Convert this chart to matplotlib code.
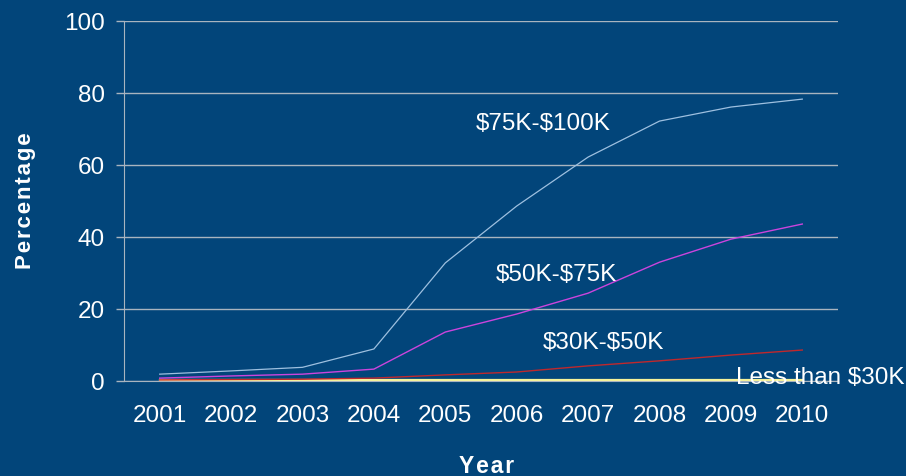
import matplotlib
matplotlib.use("Agg")
import matplotlib.pyplot as plt

years = [2001, 2002, 2003, 2004, 2005, 2006, 2007, 2008, 2009, 2010]
band_75_100 = [1.9, 2.8, 3.8, 8.9, 32.8, 48.6, 62.2, 72.2, 76.1, 78.3]
band_50_75 = [0.8, 1.4, 1.9, 3.3, 13.6, 18.6, 24.4, 33.0, 39.4, 43.6]
band_30_50 = [0.3, 0.4, 0.5, 0.8, 1.7, 2.5, 4.2, 5.6, 7.2, 8.6]
band_under_30 = [0.4, 0.4, 0.4, 0.4, 0.4, 0.4, 0.4, 0.4, 0.4, 0.4]
series_labels = ["$75K-$100K", "$50K-$75K", "$30K-$50K", "Less than $30K"]
yticks = [0, 20, 40, 60, 80, 100]

bg = "#02457A"
grid_c = "#A9B4BF"

plt.rcParams["font.family"] = ["Liberation Sans", "DejaVu Sans"]
plt.rcParams["text.parse_math"] = False


def spaced(s):
    # widen letter spacing with hair spaces
    return "\u200a".join(s)


fig = plt.figure(figsize=(9.06, 4.76), dpi=100, facecolor=bg)
ax = fig.add_axes([124 / 906, 1 - 381 / 476, 714 / 906, 360 / 476], facecolor=bg)

ax.plot(years, band_under_30, color="#F5F29A", lw=1.6, zorder=3)
ax.plot(years, band_30_50, color="#C0282C", lw=1.0, zorder=4)
ax.plot(years, band_50_75, color="#CC44DD", lw=1.0, zorder=4)
ax.plot(years, band_75_100, color="#9EC0E0", lw=0.9, zorder=4)

ax.set_xlim(2000.5, 2010.5)
ax.set_ylim(0, 100)
ax.set_yticks(yticks)
ax.set_xticks(years)
ax.yaxis.grid(True, color=grid_c, lw=1.0)
ax.set_axisbelow(True)

for s in ["top", "right"]:
    ax.spines[s].set_visible(False)
ax.spines["left"].set_color(grid_c)
ax.spines["bottom"].set_color(grid_c)
ax.tick_params(axis="y", colors=grid_c, length=6, width=1.0, labelcolor="white",
               labelsize=17.5, pad=8)
ax.tick_params(axis="x", length=0, labelcolor="white", labelsize=17.5, pad=17)

ax.set_ylabel(spaced("Percentage"), color="white", fontsize=16, fontweight="bold",
              labelpad=20)
ax.set_xlabel(spaced("Year"), color="white", fontsize=16.5, fontweight="bold",
              labelpad=20)
ax.xaxis.set_label_coords((487 - 124) / 714, -0.205)

label_pos = [(2006.37, 71.4), (2006.56, 29.4), (2007.22, 10.6), (2010.25, 0.8)]
for txt, (x, y) in zip(series_labels, label_pos):
    ax.text(x, y, txt, color="white", fontsize=17.5, ha="center", va="center",
            clip_on=False, zorder=6)

fig.savefig("out.png", dpi=100, facecolor=bg)
